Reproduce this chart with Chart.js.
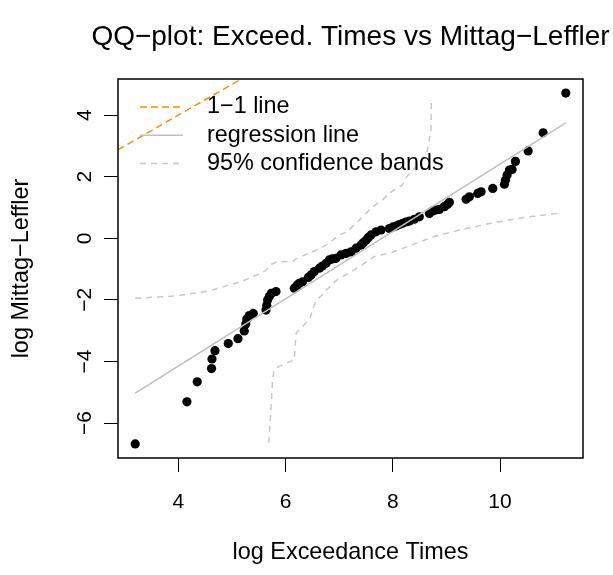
<!DOCTYPE html>
<html>
<head>
<meta charset="utf-8">
<script src="https://cdn.jsdelivr.net/npm/chart.js@4.4.1/dist/chart.umd.min.js"></script>
<style>
  body { margin: 0; background: #fff; }
</style>
</head>
<body>
<canvas id="qq" width="613" height="575"></canvas>
<script>
// sorted log exceedance times vs Mittag-Leffler quantiles
const logTimes = [3.198, 4.162, 4.354, 4.621, 4.629, 4.685, 4.933, 5.114, 5.231, 5.259,
  5.278, 5.325, 5.399, 5.636, 5.651, 5.666, 5.698, 5.735, 5.823, 6.164,
  6.220, 6.257, 6.319, 6.425, 6.476, 6.537, 6.631, 6.687, 6.756, 6.817,
  6.873, 6.942, 7.035, 7.129, 7.222, 7.315, 7.409, 7.451, 7.502, 7.545,
  7.595, 7.688, 7.782, 7.937, 8.002, 8.062, 8.123, 8.185, 8.245, 8.310,
  8.403, 8.496, 8.683, 8.744, 8.804, 8.869, 8.963, 9.019, 9.056, 9.367,
  9.429, 9.584, 9.647, 9.864, 10.082, 10.101, 10.132, 10.175, 10.226, 10.287,
  10.524, 10.804, 11.226];
const mlQuantiles = [-6.68, -5.31, -4.66, -4.23, -3.92, -3.65, -3.42, -3.26, -3.01, -2.78,
  -2.62, -2.51, -2.44, -2.33, -2.17, -2.00, -1.89, -1.79, -1.73, -1.62,
  -1.52, -1.46, -1.41, -1.27, -1.19, -1.08, -0.97, -0.90, -0.81, -0.70,
  -0.67, -0.65, -0.54, -0.49, -0.44, -0.32, -0.22, -0.14, -0.06, 0.03,
  0.11, 0.21, 0.27, 0.32, 0.37, 0.40, 0.45, 0.49, 0.53, 0.56,
  0.62, 0.70, 0.81, 0.89, 0.92, 0.94, 1.03, 1.10, 1.17, 1.27,
  1.35, 1.46, 1.51, 1.62, 1.76, 1.89, 2.06, 2.22, 2.24, 2.50,
  2.84, 3.43, 4.72];

// 95% confidence bands
const upperX = [3.198, 3.963, 4.578, 5.194, 5.549, 5.642, 5.698, 5.828, 6.127, 6.201,
  6.444, 6.575, 6.761, 7.004, 7.134, 7.321, 7.470, 7.619, 7.806, 7.937,
  8.179, 8.254, 8.496, 8.646, 8.711, 8.720];
const upperY = [-1.95, -1.87, -1.71, -1.39, -1.13, -1.03, -0.88, -0.77, -0.75, -0.66,
  -0.48, -0.38, -0.22, 0.11, 0.20, 0.50, 0.76, 1.02, 1.24, 1.47,
  1.73, 1.99, 2.44, 2.86, 3.50, 4.46];
const lowerX = [5.688, 5.716, 5.735, 5.759, 5.782, 5.828, 5.978, 6.164, 6.183, 6.201,
  6.351, 6.463, 6.500, 6.575, 6.705, 6.761, 7.004, 7.060, 7.377, 7.563,
  7.657, 7.937, 7.993, 8.496, 8.739, 9.243, 9.858, 10.493, 11.108];
const lowerY = [-6.65, -5.90, -5.35, -4.60, -4.34, -4.21, -4.08, -3.95, -3.40, -3.07,
  -2.81, -2.59, -2.33, -2.00, -1.81, -1.68, -1.28, -1.25, -0.93, -0.70,
  -0.59, -0.48, -0.45, -0.12, 0.04, 0.27, 0.50, 0.69, 0.82];

// regression line
const regIntercept = -8.53;
const regSlope = 1.094;

const xTicks = [4, 6, 8, 10];
const yTicks = [-6, -4, -2, 0, 2, 4];
const yTickLabels = ['\u22126', '\u22124', '\u22122', '0', '2', '4'];

const titleText = 'QQ\u2212plot: Exceed. Times vs Mittag\u2212Leffler';
const legendLabels = ['1\u22121 line', 'regression line', '95% confidence bands'];

const FONT = 'Liberation Sans, Arial, Helvetica, sans-serif';

// R style axis range: data range + 4%
function padRange(v) {
  const lo = Math.min(...v), hi = Math.max(...v);
  const d = (hi - lo) * 0.04;
  return [lo - d, hi + d];
}
const [xMin, xMax] = padRange(logTimes);
const [yMin, yMax] = padRange(mlQuantiles);

function zip(xs, ys) {
  return xs.map(function (x, i) { return { x: x, y: ys[i] }; });
}

const xFirst = logTimes[0], xLast = logTimes[logTimes.length - 1];

const legendStyles = [
  { color: '#FF8C00', dash: [7, 4], width: 1.5 },
  { color: '#BEBEBE', dash: [], width: 1.5 },
  { color: '#C8C8C8', dash: [6, 5], width: 1.5 }
];

// box, title, rotated y tick labels and legend, R look
const rDecor = {
  id: 'rDecor',
  afterDraw(chart) {
    const ctx = chart.ctx;
    const a = chart.chartArea;
    const ys = chart.scales.y;
    ctx.save();
    ctx.strokeStyle = '#000';
    ctx.lineWidth = 1.5;
    ctx.strokeRect(a.left, a.top, a.right - a.left, a.bottom - a.top);

    ctx.fillStyle = '#000';
    ctx.textAlign = 'center';
    ctx.textBaseline = 'middle';

    // main title centred over the plot region
    ctx.font = '28px ' + FONT;
    ctx.fillText(titleText, (a.left + a.right) / 2, 37);

    ctx.font = '21px ' + FONT;
    yTicks.forEach(function (v, i) {
      ctx.save();
      ctx.translate(85, ys.getPixelForValue(v));
      ctx.rotate(-Math.PI / 2);
      ctx.fillText(yTickLabels[i], 0, 0);
      ctx.restore();
    });

    ctx.font = '23.4px ' + FONT;
    ctx.textAlign = 'left';
    legendLabels.forEach(function (lab, i) {
      const y = 107 + i * 28.3;
      const st = legendStyles[i];
      ctx.beginPath();
      ctx.strokeStyle = st.color;
      ctx.lineWidth = st.width;
      ctx.setLineDash(st.dash);
      ctx.moveTo(140, y);
      ctx.lineTo(183, y);
      ctx.stroke();
      ctx.setLineDash([]);
      ctx.fillText(lab, 207, y);
    });
    ctx.restore();
  }
};

new Chart(document.getElementById('qq'), {
  type: 'scatter',
  data: {
    datasets: [
      {
        type: 'line',
        data: [{ x: xMin, y: xMin }, { x: xMax, y: xMax }],
        borderColor: '#FF8C00',
        borderWidth: 1.5,
        borderDash: [7, 4],
        pointRadius: 0
      },
      {
        type: 'line',
        data: [{ x: xFirst, y: regIntercept + regSlope * xFirst },
               { x: xLast, y: regIntercept + regSlope * xLast }],
        borderColor: '#BEBEBE',
        borderWidth: 1.5,
        pointRadius: 0
      },
      {
        type: 'line',
        data: zip(upperX, upperY),
        borderColor: '#C8C8C8',
        borderWidth: 1.5,
        borderDash: [6, 5],
        pointRadius: 0,
        tension: 0
      },
      {
        type: 'line',
        data: zip(lowerX, lowerY),
        borderColor: '#C8C8C8',
        borderWidth: 1.5,
        borderDash: [6, 5],
        pointRadius: 0,
        tension: 0
      },
      {
        data: zip(logTimes, mlQuantiles),
        backgroundColor: '#000',
        borderWidth: 0,
        pointRadius: 4.6
      }
    ]
  },
  options: {
    responsive: false,
    animation: false,
    devicePixelRatio: 1,
    layout: { padding: { left: 0, right: 30, top: 79, bottom: 0 } },
    plugins: {
      legend: { display: false },
      tooltip: { enabled: false },
      title: { display: false }
    },
    scales: {
      x: {
        type: 'linear',
        position: 'bottom',
        min: xMin,
        max: xMax,
        afterBuildTicks: function (s) { s.ticks = xTicks.map(function (v) { return { value: v }; }); },
        afterFit: function (s) { s.height = 117; },
        ticks: { color: '#000', padding: 20, font: { family: FONT, size: 21, lineHeight: 1 } },
        grid: { drawOnChartArea: false, drawTicks: true, tickLength: 14, color: '#000', lineWidth: 1 },
        border: { display: false },
        title: {
          display: true,
          text: 'log Exceedance Times',
          color: '#000',
          font: { family: FONT, size: 23.4, lineHeight: 1 },
          padding: { top: 0, bottom: 10.3 }
        }
      },
      y: {
        type: 'linear',
        min: yMin,
        max: yMax,
        afterBuildTicks: function (s) { s.ticks = yTicks.map(function (v) { return { value: v }; }); },
        afterFit: function (s) { s.width = 118; },
        ticks: { display: false },
        grid: { drawOnChartArea: false, drawTicks: true, tickLength: 14, color: '#000', lineWidth: 1 },
        border: { display: false },
        title: {
          display: true,
          text: 'log Mittag\u2212Leffler',
          color: '#000',
          font: { family: FONT, size: 23.4, lineHeight: 1 },
          padding: { top: 10.3, bottom: 0 }
        }
      }
    }
  },
  plugins: [rDecor]
});
</script>
</body>
</html>
